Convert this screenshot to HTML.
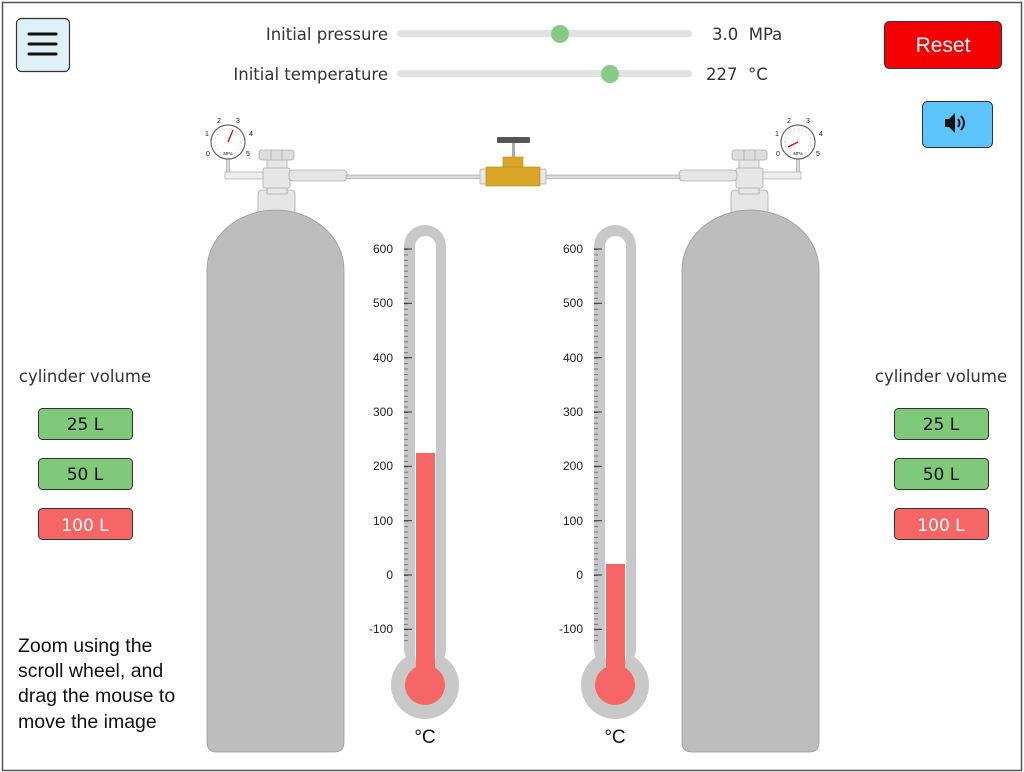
<!DOCTYPE html>
<html><head><meta charset="utf-8"><style>
html,body{margin:0;padding:0;background:#fff;}
body{width:1024px;height:772px;position:relative;overflow:hidden;font-family:"Liberation Sans",sans-serif;}
.t{font-family:"DejaVu Sans","Liberation Sans",sans-serif;}
</style></head><body>
<svg width="1024" height="772" viewBox="0 0 1024 772" xmlns="http://www.w3.org/2000/svg" style="position:absolute;left:0;top:0">
<defs>
<g id="side">
  <rect x="226.5" y="158" width="3" height="18" fill="#ddd" stroke="#999" stroke-width="0.6"/>
  <rect x="225" y="172" width="42" height="7" fill="#eee" stroke="#aaa" stroke-width="0.7"/>
  <circle cx="228" cy="142" r="17" fill="#fff" stroke="#666" stroke-width="1.2"/>
  <circle cx="228" cy="142" r="13" fill="none" stroke="#bbb" stroke-width="1" stroke-dasharray="1 3"/>
  <rect x="258" y="190" width="37" height="25" rx="4" fill="#e6e6e6" stroke="#aaa" stroke-width="0.8"/>
  <path d="M207,270 A68.5,60 0 0 1 344,270 L344,742 Q344,752 334,752 L217,752 Q207,752 207,742 Z" fill="#bdbdbd" stroke="#999" stroke-width="0.8"/>
  <rect x="267" y="156" width="20" height="38" fill="#e6e6e6" stroke="#aaa" stroke-width="0.8"/>
  <rect x="263" y="168" width="27" height="20" rx="2" fill="#e6e6e6" stroke="#aaa" stroke-width="0.8"/>
  <rect x="259" y="150" width="35" height="10" rx="3" fill="#ddd" stroke="#aaa" stroke-width="0.8"/>
  <line x1="271" y1="150" x2="271" y2="160" stroke="#aaa" stroke-width="0.8"/>
  <line x1="282" y1="150" x2="282" y2="160" stroke="#aaa" stroke-width="0.8"/>
  <rect x="289" y="170" width="58" height="11" rx="4" fill="#e6e6e6" stroke="#aaa" stroke-width="0.8"/>
  <rect x="346" y="175" width="140" height="3.5" fill="#ddd" stroke="#999" stroke-width="0.6"/>
  <rect x="480" y="169" width="8" height="15" rx="1" fill="#e6e6e6" stroke="#aaa" stroke-width="0.7"/>
</g>
</defs>
<rect x="2.5" y="2.5" width="1019" height="768" fill="#fff" stroke="#555" stroke-width="1.5"/>

<use href="#side"/>
<use href="#side" transform="translate(1026,0) scale(-1,1)"/>
<g font-size="7" fill="#222" font-family="Liberation Sans,sans-serif" text-anchor="middle">
<text x="207" y="136">1</text><text x="219" y="123">2</text><text x="238" y="123">3</text><text x="251" y="136">4</text><text x="208" y="156">0</text><text x="248" y="156">5</text><text x="228" y="155" font-size="4.5">MPa</text>
<text x="777" y="136">1</text><text x="789" y="123">2</text><text x="808" y="123">3</text><text x="821" y="136">4</text><text x="778" y="156">0</text><text x="818" y="156">5</text><text x="798" y="155" font-size="4.5">MPa</text>
</g>
<line x1="228" y1="142" x2="233" y2="130" stroke="#e00" stroke-width="1.3"/>
<line x1="798" y1="142" x2="788" y2="147" stroke="#e00" stroke-width="1.3"/>
<rect x="497" y="137" width="33" height="6" rx="1.5" fill="#555"/>
<rect x="512" y="143" width="3" height="15" fill="#aaa"/>
<rect x="503" y="157" width="20" height="12" fill="#d9a526" stroke="#b8871a" stroke-width="0.6"/>
<rect x="486" y="167" width="54" height="19" fill="#d9a526" stroke="#b8871a" stroke-width="0.6"/>

<rect x="404" y="225" width="42" height="445" rx="21" fill="#c8c8c8"/>
<circle cx="425" cy="685" r="34" fill="#c8c8c8"/>
<rect x="415" y="236" width="21" height="430" rx="10.5" fill="#fff"/>
<rect x="416" y="453" width="19" height="232" fill="#f76666"/>
<circle cx="425" cy="685" r="20" fill="#f76666"/>
<rect x="594" y="225" width="42" height="445" rx="21" fill="#c8c8c8"/>
<circle cx="615" cy="685" r="34" fill="#c8c8c8"/>
<rect x="605" y="236" width="21" height="430" rx="10.5" fill="#fff"/>
<rect x="606" y="564" width="19" height="121" fill="#f76666"/>
<circle cx="615" cy="685" r="20" fill="#f76666"/>
<line x1="406" y1="249" x2="406" y2="645" stroke="#777" stroke-width="4" stroke-dasharray="1 4.433"/>
<line x1="596" y1="249" x2="596" y2="645" stroke="#777" stroke-width="4" stroke-dasharray="1 4.433"/>
<g stroke="#333" stroke-width="1">
<line x1="404" y1="249" x2="412" y2="249"/><line x1="404" y1="303.3" x2="412" y2="303.3"/><line x1="404" y1="357.7" x2="412" y2="357.7"/><line x1="404" y1="412" x2="412" y2="412"/><line x1="404" y1="466.3" x2="412" y2="466.3"/><line x1="404" y1="520.7" x2="412" y2="520.7"/><line x1="404" y1="575" x2="412" y2="575"/><line x1="404" y1="629.3" x2="412" y2="629.3"/>
<line x1="594" y1="249" x2="602" y2="249"/><line x1="594" y1="303.3" x2="602" y2="303.3"/><line x1="594" y1="357.7" x2="602" y2="357.7"/><line x1="594" y1="412" x2="602" y2="412"/><line x1="594" y1="466.3" x2="602" y2="466.3"/><line x1="594" y1="520.7" x2="602" y2="520.7"/><line x1="594" y1="575" x2="602" y2="575"/><line x1="594" y1="629.3" x2="602" y2="629.3"/>
</g>
<g font-size="12" fill="#222" text-anchor="end" font-family="Liberation Sans,sans-serif">
<text x="393" y="253">600</text><text x="393" y="307">500</text><text x="393" y="362">400</text><text x="393" y="416">300</text><text x="393" y="470">200</text><text x="393" y="525">100</text><text x="393" y="579">0</text><text x="393" y="633">-100</text>
<text x="583" y="253">600</text><text x="583" y="307">500</text><text x="583" y="362">400</text><text x="583" y="416">300</text><text x="583" y="470">200</text><text x="583" y="525">100</text><text x="583" y="579">0</text><text x="583" y="633">-100</text>
</g>
<g font-size="19" fill="#111" text-anchor="middle" font-family="Liberation Sans,sans-serif">
<text x="425" y="743">°C</text><text x="615" y="743">°C</text>
</g>

<rect x="397" y="30" width="295" height="7" rx="3.5" fill="#e2e2e2"/>
<rect x="397" y="70" width="295" height="7" rx="3.5" fill="#e2e2e2"/>
<circle cx="560" cy="34" r="9" fill="#88c888"/>
<circle cx="610" cy="74" r="9" fill="#88c888"/>
<g class="t" font-size="16.5" fill="#333">
<text x="388" y="40" text-anchor="end">Initial pressure</text>
<text x="388" y="80" text-anchor="end">Initial temperature</text>
<text x="712" y="40" xml:space="preserve">3.0  MPa</text>
<text x="706" y="80" xml:space="preserve">227  °C</text>
</g>

<rect x="16.5" y="18.5" width="53" height="53" rx="5" fill="#dff0f7" stroke="#333" stroke-width="1.2"/>
<g stroke="#111" stroke-width="3" stroke-linecap="round"><line x1="29" y1="34" x2="56" y2="34"/><line x1="29" y1="44" x2="56" y2="44"/><line x1="29" y1="54" x2="56" y2="54"/></g>

<rect x="884.5" y="21.5" width="117" height="47" rx="5" fill="#f40000" stroke="#333" stroke-width="1"/>
<text x="943" y="52" font-size="21" fill="#fff" text-anchor="middle" font-family="Liberation Sans,sans-serif">Reset</text>
<rect x="922.5" y="101.5" width="70" height="46" rx="5" fill="#5cc4fa" stroke="#333" stroke-width="1"/>
<path d="M945,119 h4 l6,-6 v20 l-6,-6 h-4 z" fill="#111"/>
<path d="M958,119 q3,4 0,8 M961,116 q6,7 0,14" fill="none" stroke="#111" stroke-width="2"/>

<g class="t" font-size="16.5" fill="#333" text-anchor="middle">
<text x="85" y="382">cylinder volume</text>
<text x="941" y="382">cylinder volume</text>
</g>
<g stroke="#333" stroke-width="1">
<rect x="38.5" y="408.5" width="94" height="31" rx="4" fill="#80c97a"/>
<rect x="38.5" y="458.5" width="94" height="31" rx="4" fill="#80c97a"/>
<rect x="38.5" y="508.5" width="94" height="31" rx="4" fill="#f76666"/>
<rect x="894.5" y="408.5" width="94" height="31" rx="4" fill="#80c97a"/>
<rect x="894.5" y="458.5" width="94" height="31" rx="4" fill="#80c97a"/>
<rect x="894.5" y="508.5" width="94" height="31" rx="4" fill="#f76666"/>
</g>
<g class="t" font-size="17" text-anchor="middle">
<text x="85" y="430" fill="#111">25 L</text><text x="85" y="480" fill="#111">50 L</text><text x="85" y="531" fill="#fff">100 L</text>
<text x="941" y="430" fill="#111">25 L</text><text x="941" y="480" fill="#111">50 L</text><text x="941" y="531" fill="#fff">100 L</text>
</g>
<g font-size="19.5" fill="#111" font-family="Liberation Sans,sans-serif">
<text x="18" y="652">Zoom using the</text>
<text x="18" y="677">scroll wheel, and</text>
<text x="18" y="702">drag the mouse to</text>
<text x="18" y="728">move the image</text>
</g>
</svg>
</body></html>
